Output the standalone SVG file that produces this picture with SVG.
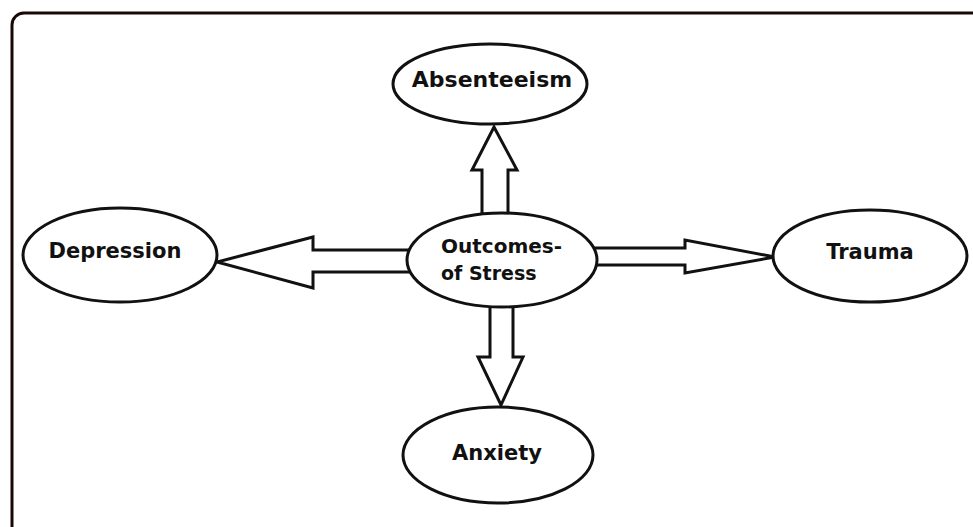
<svg xmlns="http://www.w3.org/2000/svg" width="973" height="527" viewBox="0 0 973 527">
<style>
.frame{fill:none;stroke:#1a0808;stroke-width:3}
.node{fill:#fff;stroke:#111;stroke-width:3}
.arrow{fill:#fff;stroke:#111;stroke-width:3;stroke-linejoin:miter}
.lbl{font-family:"DejaVu Sans",sans-serif;font-weight:bold;fill:#111;text-anchor:middle}
</style>
<rect x="12" y="13" width="990" height="540" rx="12" class="frame"/>
<g id="connectors">
<polygon class="arrow" points="482,216 482,170 472,170 494,127 517,170 508,170 508,216"/>
<polygon class="arrow" points="410,250 313,250 313,237 217,262 313,288 313,272 410,272"/>
<polygon class="arrow" points="594,248 685,248 685,240 775,257 685,273 685,265 594,265"/>
<polygon class="arrow" points="490,303 490,357 478,357 501,405 523,357 513,357 513,303"/>
</g>
<g id="absenteeism">
<ellipse class="node" cx="490" cy="84" rx="97" ry="40"/>
<text class="lbl" x="492" y="87" font-size="22">Absenteeism</text>
</g>
<g id="depression">
<ellipse class="node" cx="120" cy="255" rx="97" ry="47"/>
<text class="lbl" x="115" y="258" font-size="21">Depression</text>
</g>
<g id="outcomes">
<ellipse class="node" cx="502" cy="260" rx="95" ry="47"/>
<text class="lbl" x="441" y="253" font-size="20" style="text-anchor:start">Outcomes-</text>
<text class="lbl" x="441" y="280" font-size="19" style="text-anchor:start">of Stress</text>
</g>
<g id="trauma">
<ellipse class="node" cx="870" cy="256" rx="97" ry="46"/>
<text class="lbl" x="870" y="259" font-size="21">Trauma</text>
</g>
<g id="anxiety">
<ellipse class="node" cx="498" cy="455" rx="95" ry="48"/>
<text class="lbl" x="497" y="460" font-size="21">Anxiety</text>
</g>
</svg>
